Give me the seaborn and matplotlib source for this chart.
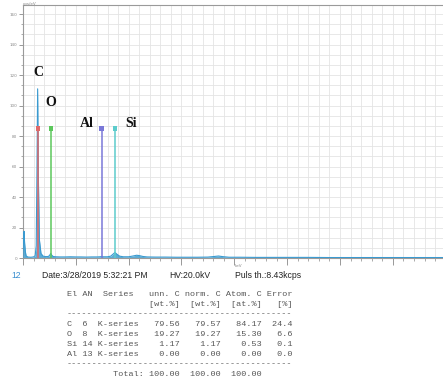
import matplotlib
matplotlib.use("Agg")
import matplotlib.pyplot as plt
import seaborn as sns
import numpy as np
import pandas as pd
from matplotlib.ticker import MultipleLocator, NullFormatter

# EDS spectrum (energy in keV, intensity in cps/eV)
energy = [0.00, 0.01, 0.02, 0.03, 0.045, 0.06, 0.10, 0.15, 0.20, 0.23, 0.25,
          0.265, 0.277, 0.29, 0.31, 0.34, 0.38, 0.43, 0.48, 0.505, 0.525,
          0.545, 0.57, 0.62, 0.70, 0.80, 0.90, 1.00, 1.10, 1.20, 1.30, 1.40,
          1.46, 1.49, 1.52, 1.60, 1.66, 1.70, 1.74, 1.78, 1.83, 1.90, 2.00,
          2.08, 2.15, 2.20, 2.27, 2.35, 2.50, 2.70, 2.90, 3.10, 3.30, 3.50,
          3.62, 3.70, 3.78, 3.90, 4.10, 4.40, 4.70, 5.00, 5.40, 5.80, 6.20,
          6.60, 7.00, 7.40, 7.95]
cps = [0.0, 12.0, 17.5, 10.0, 4.0, 1.2, 0.6, 0.5, 0.7, 1.5, 8.0,
       60.0, 111.0, 55.0, 12.0, 3.0, 1.2, 0.9, 1.0, 1.8, 3.0,
       1.8, 1.0, 0.8, 0.7, 0.7, 0.8, 0.7, 0.7, 0.6, 0.7, 0.7,
       0.8, 1.0, 0.8, 0.8, 1.2, 2.4, 3.6, 2.4, 1.2, 0.8, 0.8,
       1.3, 1.8, 1.6, 1.0, 0.7, 0.6, 0.6, 0.5, 0.5, 0.5, 0.6,
       1.0, 1.3, 0.9, 0.5, 0.5, 0.4, 0.4, 0.4, 0.4, 0.3, 0.3,
       0.3, 0.3, 0.3, 0.3]

# Element line markers
elements = ["C", "O", "Al", "Si"]
line_energy = [0.277, 0.525, 1.486, 1.740]
line_colors = ["#e06a6a", "#5cc85c", "#7a78d8", "#5ccccc"]
marker_height = 85

# Quantification results
table_header = ["El AN  Series   unn. C norm. C Atom. C Error",
                "                [wt.%]  [wt.%]  [at.%]   [%]"]
table_rows = ["C  6  K-series   79.56   79.57   84.17  24.4",
              "O  8  K-series   19.27   19.27   15.30   6.6",
              "Si 14 K-series    1.17    1.17    0.53   0.1",
              "Al 13 K-series    0.00    0.00    0.00   0.0"]
table_total = "         Total: 100.00  100.00  100.00"

info_texts = ["Date:3/28/2019 5:32:21 PM", "HV:20.0kV", "Puls th.:8.43kcps"]

sns.set_style("white")
plt.rcParams["font.family"] = ["DejaVu Sans"]

W, H = 443, 383
fig = plt.figure(figsize=(W / 100, H / 100), dpi=100)
ax = fig.add_axes([23 / W, 1 - 258 / H, 1 - 23 / W, (258 - 5) / H])

df = pd.DataFrame({"energy": energy, "cps": cps})
ax.fill_between(df["energy"], df["cps"], 0, color="#3f9fcf", alpha=0.85,
                linewidth=0, zorder=2)
sns.lineplot(data=df, x="energy", y="cps", ax=ax, color="#3a9ad0",
             linewidth=0.8, zorder=3)

ax.vlines(line_energy, 0, marker_height, colors=line_colors, linewidth=1.1,
          zorder=4)
ax.scatter(line_energy, [marker_height] * len(line_energy), c=line_colors,
           marker="s", s=9, zorder=5, linewidths=0)

label_pos = [(0.29, 122), (0.53, 102), (1.21, 88), (2.04, 88)]
for name, (xe, ye) in zip(elements, label_pos):
    ax.text(xe, ye, name, ha="center", va="center", fontsize=10,
            fontweight="bold", family=["Liberation Serif"], color="#111111")

ax.set_xlim(0, 7.95)
ax.set_ylim(0, 166)
ax.xaxis.set_major_locator(MultipleLocator(1))
ax.xaxis.set_minor_locator(MultipleLocator(0.2))
ax.yaxis.set_major_locator(MultipleLocator(20))
ax.yaxis.set_minor_locator(MultipleLocator(20 / 3))
ax.grid(which="both", color="#e4e4e4", linewidth=0.6, zorder=0)
ax.set_axisbelow(True)
ax.xaxis.set_major_formatter(NullFormatter())
ax.tick_params(axis="x", which="major", length=5, width=0.6, color="#888888",
               direction="out", bottom=True)
ax.tick_params(axis="x", which="minor", length=2, width=0.5, color="#888888",
               direction="out", bottom=True)
ax.tick_params(axis="y", which="major", length=3, width=0.6, color="#888888",
               labelsize=3, labelcolor="#888888", pad=1, left=True)
ax.tick_params(axis="y", which="minor", length=1.5, width=0.5,
               color="#888888", left=True)
ax.set_xlabel("")
ax.set_ylabel("")
for side in ["left", "bottom", "top"]:
    ax.spines[side].set_color("#9a9a9a")
    ax.spines[side].set_linewidth(0.8)
ax.spines["right"].set_visible(False)

fig.text(30 / W, 1 - 4 / H, "cps/eV", fontsize=3, color="#888888",
         ha="center", va="center")
fig.text(238 / W, 1 - 266 / H, "keV", fontsize=3, color="#888888",
         ha="center", va="center")

# Acquisition info line
fig.text(16 / W, 1 - 276 / H, "12", fontsize=6.2, color="#3a8fd0",
         ha="center", va="center", family=["Liberation Sans"])
for txt, x in zip(info_texts, [42, 169, 235]):
    fig.text(x / W, 1 - 276 / H, txt, fontsize=6.2, color="#222222",
             ha="left", va="center", family=["Liberation Sans"])

# Results table
mono = dict(fontsize=6.1, color="#555555", ha="left", va="center",
            family=["Liberation Mono"])
dash_line = "-" * 44
lines = table_header + [dash_line] + table_rows + [dash_line, table_total]
ys = [294, 304, 314, 325, 334, 344, 354, 364, 375]
for txt, y in zip(lines, ys):
    fig.text(67 / W, 1 - y / H, txt, **mono)

fig.savefig("out.png", dpi=100)
